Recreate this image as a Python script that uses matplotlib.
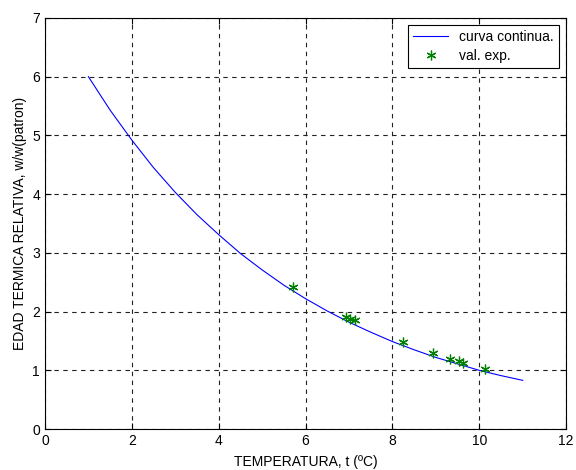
import numpy as np
import matplotlib
matplotlib.use("Agg")
import matplotlib.pyplot as plt

plt.rcParams['font.family'] = ['Liberation Sans', 'DejaVu Sans']

# curva continua
t_curve = [1.0, 1.5, 2.0, 2.5, 3.0, 3.5, 4.0, 4.5, 5.0, 5.5, 6.0,
           6.5, 7.0, 7.5, 8.0, 8.5, 9.0, 9.5, 10.0, 10.5, 11.0]
w_curve = [6.00, 5.43, 4.92, 4.45, 4.03, 3.65, 3.31, 2.99, 2.71, 2.45, 2.22,
           2.01, 1.82, 1.65, 1.49, 1.35, 1.22, 1.11, 1.00, 0.91, 0.83]

# valores experimentales
t_exp = [5.71, 6.93, 7.03, 7.13, 8.24, 8.93, 9.32, 9.53, 9.62, 10.14]
w_exp = [2.42, 1.90, 1.88, 1.85, 1.48, 1.29, 1.19, 1.16, 1.13, 1.02]

fig = plt.figure(figsize=(5.76, 4.70), dpi=100)
ax = fig.add_axes([0.078, 0.087, 0.905, 0.875])

ax.plot(t_curve, w_curve, color='blue', lw=0.8, label='curva continua.')
ax.plot(t_exp, w_exp, ls='none', marker=(6, 2, 0), ms=7, mew=0.9,
        color=(0, 0.5, 0), label='val. exp.')

ax.set_xlim(0, 12)
ax.set_ylim(0, 7)
ax.set_xticks(range(0, 13, 2))
ax.set_yticks(range(0, 8))
ax.grid(True, ls=(0, (4, 4)), color='#222222', lw=0.8)
ax.tick_params(direction='in', top=True, right=True, labelsize=10, length=4)
for s in ax.spines.values():
    s.set_linewidth(0.8)

ax.set_xlabel('TEMPERATURA, t (ºC)', fontsize=10, labelpad=5)
ax.set_ylabel('EDAD TERMICA RELATIVA, w/w(patron)', fontsize=10, labelpad=4)

leg = ax.legend(loc='upper right', fontsize=10, fancybox=False, framealpha=1,
                edgecolor='black', borderaxespad=0.5, handlelength=2.5,
                labelspacing=0.3)
leg.get_frame().set_linewidth(0.8)

fig.savefig('out.png', dpi=100)
